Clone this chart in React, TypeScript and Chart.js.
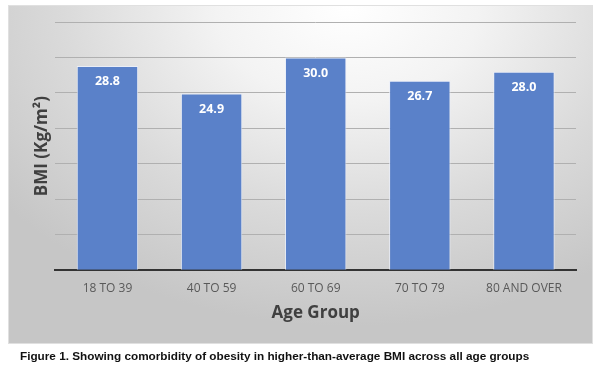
import React, { useEffect, useRef } from "react";
import { Chart, registerables } from "chart.js";

Chart.register(...registerables);

const categories = ["18 TO 39", "40 TO 59", "60 TO 69", "70 TO 79", "80 AND OVER"];
const bmiValues = [28.8, 24.9, 30.0, 26.7, 28.0];
const yMin = 0;
const yMax = 35;
const yStep = 5;
const yTitle = "BMI (Kg/m²)";
const xTitle = "Age Group";
const caption =
  "Figure 1. Showing comorbidity of obesity in higher-than-average BMI across all age groups";

const valueLabelPlugin = {
  id: "valueLabels",
  afterDatasetsDraw(chart: any) {
    const { ctx } = chart;
    const meta = chart.getDatasetMeta(0);
    const data = chart.data.datasets[0].data as number[];
    ctx.save();
    ctx.fillStyle = "#ffffff";
    ctx.font = "bold 12.5px 'Open Sans', sans-serif";
    ctx.textAlign = "center";
    ctx.textBaseline = "middle";
    meta.data.forEach((bar: any, i: number) => {
      ctx.fillText(data[i].toFixed(1), bar.x, bar.y + 15.5);
    });
    ctx.restore();
  },
};

export default function App() {
  const canvasRef = useRef<HTMLCanvasElement | null>(null);

  useEffect(() => {
    if (!canvasRef.current) return;
    const chart = new Chart(canvasRef.current, {
      type: "bar",
      data: {
        labels: categories,
        datasets: [
          {
            data: bmiValues,
            backgroundColor: "#5a81c9",
            borderColor: "rgba(235,240,250,0.85)",
            borderWidth: 1,
            barPercentage: 0.59,
            categoryPercentage: 1,
          },
        ],
      },
      options: {
        responsive: false,
        animation: false,
        layout: { padding: { left: 32, right: 24, top: 22, bottom: 46 } },
        plugins: {
          legend: { display: false },
          tooltip: { enabled: false },
        },
        scales: {
          x: {
            grid: { display: false, drawTicks: false },
            border: { display: true, color: "#333333", width: 2 },
            ticks: {
              color: "#595959",
              padding: 11,
              font: { family: "'Open Sans', sans-serif", size: 12 },
              maxRotation: 0,
            },
            title: {
              display: true,
              text: xTitle,
              color: "#404040",
              font: { family: "'Open Sans', sans-serif", size: 17, weight: "bold" },
              padding: { top: -4, bottom: 0 },
            },
          },
          y: {
            min: yMin,
            max: yMax,
            ticks: { display: false, stepSize: yStep },
            grid: { color: "#b0b0b0", lineWidth: 1, drawTicks: false },
            border: { display: false },
            title: {
              display: true,
              text: yTitle,
              color: "#404040",
              font: { family: "'Open Sans', sans-serif", size: 17, weight: "bold" },
              padding: { top: 0, bottom: 3 },
            },
          },
        },
      },
      plugins: [valueLabelPlugin],
    });
    return () => chart.destroy();
  }, []);

  return (
    <div
      style={{
        position: "fixed",
        left: 0,
        top: 0,
        width: 600,
        height: 369,
        background: "#ffffff",
        overflow: "hidden",
      }}
    >
      <div
        style={{
          position: "absolute",
          left: 8,
          top: 5,
          width: 585,
          height: 339,
          boxSizing: "border-box",
          border: "1px solid #e0e0e0",
          background:
            "radial-gradient(ellipse 75% 95% at 58% 0%, #ffffff 0%, #f3f3f3 30%, #dadada 65%, #c6c6c6 100%)",
        }}
      />
      <canvas
        ref={canvasRef}
        width={600}
        height={369}
        style={{ position: "absolute", left: 0, top: 0, width: 600, height: 369 }}
      />
      <div
        style={{
          position: "absolute",
          left: 20,
          top: 349,
          fontFamily: "'Liberation Sans', Arial, sans-serif",
          fontWeight: "bold",
          fontSize: 11.75,
          color: "#111111",
          whiteSpace: "nowrap",
          lineHeight: "14px",
        }}
      >
        {caption}
      </div>
    </div>
  );
}
